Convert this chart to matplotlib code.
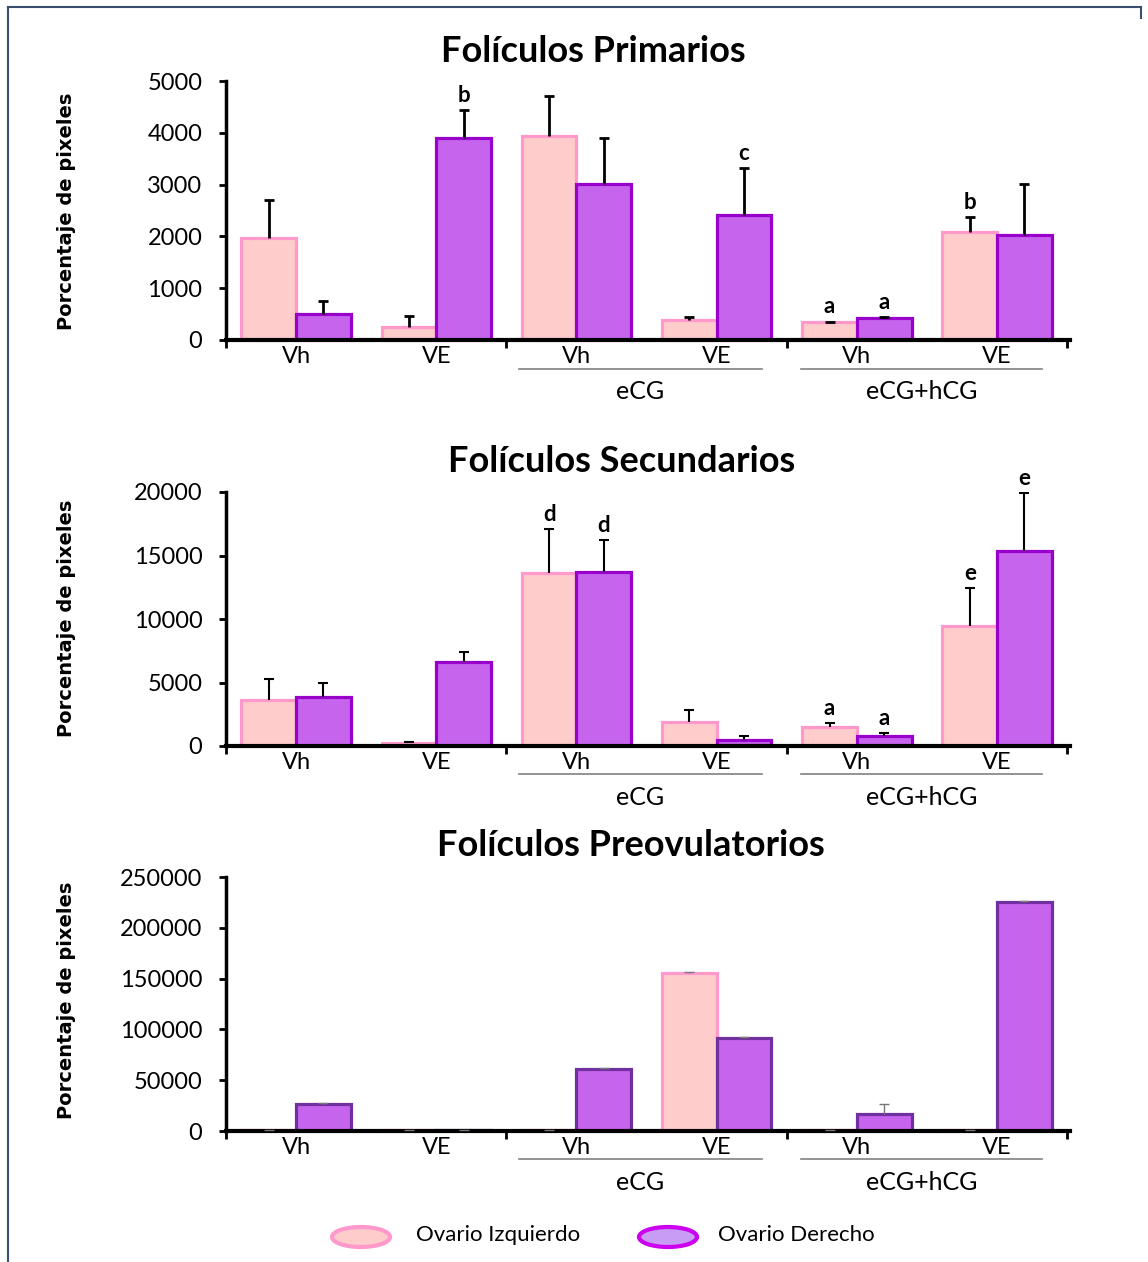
import matplotlib
matplotlib.use("Agg")
import matplotlib.pyplot as plt
from matplotlib.patches import Ellipse
from matplotlib.lines import Line2D
import numpy as np

# categories: Vh, VE, eCG Vh, eCG VE, eCG+hCG Vh, eCG+hCG VE
SUB_LABELS = ["Vh", "VE", "Vh", "VE", "Vh", "VE"]
GROUPS = ["eCG", "eCG+hCG"]

prim_izq = [1970, 250, 3940, 380, 340, 2090]
prim_izq_err = [730, 210, 780, 70, 15, 290]
prim_der = [510, 3900, 3020, 2420, 420, 2030]
prim_der_err = [250, 540, 870, 900, 20, 990]
prim_letters_izq = ["", "", "", "", "a", "b"]
prim_letters_der = ["", "b", "", "c", "a", ""]

sec_izq = [3620, 220, 13620, 1890, 1500, 9450]
sec_izq_err = [1650, 80, 3470, 950, 310, 3000]
sec_der = [3860, 6610, 13700, 480, 790, 15350]
sec_der_err = [1100, 790, 2520, 300, 240, 4570]
sec_letters_izq = ["", "", "d", "", "a", "e"]
sec_letters_der = ["", "", "d", "", "a", "e"]

pre_izq = [500, 800, 500, 155500, 500, 1000]
pre_izq_err = [0, 0, 0, 600, 0, 0]
pre_der = [26500, 1000, 61000, 91500, 16700, 225400]
pre_der_err = [600, 0, 600, 600, 9800, 600]

PINK_FACE, PINK_EDGE = "#FFCCCC", "#FF99CC"
PURP_FACE, PURP_EDGE = "#C764EE", "#9900CC"
PURP_EDGE3 = "#7030A0"

plt.rcParams["font.family"] = ["Lato", "DejaVu Sans"]

fig = plt.figure(figsize=(11.48, 12.62), dpi=100)

W = 0.39
x = np.arange(6) + 0.5


def err_up(ax, xs, vals, errs, col, lw):
    # only the upper half of the error bar, cap on top
    tops = np.array(vals) + np.array(errs)
    ax.vlines(xs, vals, tops, colors=col, linewidth=lw, zorder=3)
    ax.plot(xs, tops, linestyle="none", marker="_", markersize=7, markeredgewidth=lw,
            color=col, zorder=3)


def panel(rect, izq, izq_err, der, der_err, ymax, step, title, title_xy,
          ylabel_y, letters=None, der_edge=PURP_EDGE, ecol="black", elw=2.0):
    ax = fig.add_axes(rect)
    ax.bar(x - W / 2, izq, W, color=PINK_FACE, edgecolor=PINK_EDGE, linewidth=2.3, zorder=2)
    ax.bar(x + W / 2, der, W, color=PURP_FACE, edgecolor=der_edge, linewidth=2.3, zorder=2)
    err_up(ax, x - W / 2, izq, izq_err, ecol, elw)
    err_up(ax, x + W / 2, der, der_err, ecol, elw)
    if letters:
        for off, vals, errs, labs in [(-W / 2, izq, izq_err, letters[0]),
                                      (W / 2, der, der_err, letters[1])]:
            for xi, v, e, t in zip(x + off, vals, errs, labs):
                if t:
                    ax.annotate(t, (xi, v + e), xytext=(0, 3), textcoords="offset points",
                                ha="center", va="bottom", fontsize=16, fontweight="bold")
    ax.set_xlim(0, 6.02)
    ax.set_ylim(0, ymax)
    ax.set_yticks(np.arange(0, ymax + 1, step))
    ax.tick_params(axis="y", labelsize=17, width=2, length=5, pad=12)
    ax.set_xticks([0, 2, 4, 6])
    ax.set_xticklabels([])
    ax.tick_params(axis="x", width=2, length=6, direction="out")
    for s in ["top", "right"]:
        ax.spines[s].set_visible(False)
    ax.spines["left"].set_linewidth(2.5)
    ax.spines["bottom"].set_linewidth(3)
    for xi, t in zip(x, SUB_LABELS):
        ax.annotate(t, (xi, 0), xycoords=("data", "axes fraction"), xytext=(0, -12),
                    textcoords="offset points", ha="center", va="center", fontsize=17)
    for g, (a, b) in zip(GROUPS, [(2.09, 3.82), (4.10, 5.82)]):
        ax.plot([a, b], [-0.112, -0.112], transform=ax.get_xaxis_transform(),
                color="#808080", linewidth=1.2, clip_on=False)
        ax.annotate(g, ((a + b) / 2, 0), xycoords=("data", "axes fraction"),
                    xytext=(0, -37), textcoords="offset points", ha="center",
                    va="center", fontsize=18)
    fig.text(title_xy[0] / 1148, 1 - title_xy[1] / 1262, title, ha="center", va="center",
             fontsize=26, fontweight="bold")
    fig.text(66 / 1148, 1 - ylabel_y / 1262, "Porcentaje de pixeles", rotation=90,
             ha="center", va="center", fontsize=14, fontweight="bold",
             family=["DejaVu Sans"])
    return ax


L, WID = 226 / 1148, 844 / 1148
panel([L, 1 - 340 / 1262, WID, 259 / 1262], prim_izq, prim_izq_err, prim_der, prim_der_err,
      5000, 1000, "Folículos Primarios", (593, 52), 211,
      letters=(prim_letters_izq, prim_letters_der))
panel([L, 1 - 746 / 1262, WID, 254 / 1262], sec_izq, sec_izq_err, sec_der, sec_der_err,
      20000, 5000, "Folículos Secundarios", (622, 462), 618,
      letters=(sec_letters_izq, sec_letters_der), elw=1.5)
panel([L, 1 - 1131 / 1262, WID, 254 / 1262], pre_izq, pre_izq_err, pre_der, pre_der_err,
      250000, 50000, "Folículos Preovulatorios", (631, 846), 1000,
      der_edge=PURP_EDGE3, ecol="#777777", elw=1.0)

# legend
for cx, face, edge, lab, tx in [(361, PINK_FACE, PINK_EDGE, "Ovario Izquierdo", 416),
                                (668, "#C89CF5", "#CC00EE", "Ovario Derecho", 718)]:
    fig.patches.append(Ellipse((cx / 1148, 1 - 1237 / 1262), 58 / 1148, 20 / 1262,
                               transform=fig.transFigure, facecolor=face, edgecolor=edge,
                               linewidth=3))
    fig.text(tx / 1148, 1 - 1235 / 1262, lab, ha="left", va="center", fontsize=16)

# frame lines
fig.add_artist(Line2D([8 / 1148, 8 / 1148], [0, 1 - 7 / 1262], color="#3A4F6E", linewidth=1.5))
fig.add_artist(Line2D([8 / 1148, 1141 / 1148], [1 - 7 / 1262, 1 - 7 / 1262], color="#3A4F6E",
                      linewidth=1.5))
fig.add_artist(Line2D([1141 / 1148, 1141 / 1148], [1 - 7 / 1262, 1 - 18 / 1262], color="#3A4F6E",
                      linewidth=1.5))

fig.savefig("out.png", dpi=100)
